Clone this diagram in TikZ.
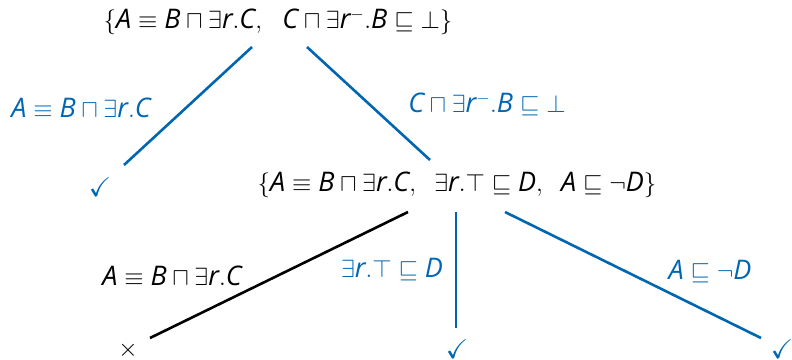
\documentclass[tikz,border=0pt]{standalone}
\usepackage{amssymb}
\usepackage{fontspec}
\setmainfont{Open Sans}
\definecolor{tblue}{RGB}{0,102,178}
\newcommand{\vv}[1]{\textit{#1}}
\begin{document}
\begin{tikzpicture}[x=1pt,y=-1pt,
  lbl/.style={inner sep=0pt,font=\fontsize{27}{31}\selectfont},
  edge/.style={line width=2.6pt},
  blueedge/.style={edge,draw=tblue},
  blackedge/.style={edge,draw=black}]
\useasboundingbox (0,0) rectangle (792,359);
% nodes
\node[lbl] (top) at (278,22) {$\{\vv{A} \equiv \vv{B} \sqcap \exists \vv{r}.\vv{C},\hspace{0.6em} \vv{C} \sqcap \exists \vv{r}^{-}.\vv{B} \sqsubseteq \bot\}$};
\node[lbl] (mid) at (457,185) {$\{\vv{A} \equiv \vv{B} \sqcap \exists \vv{r}.\vv{C},\ \ \exists \vv{r}.\top \sqsubseteq \vv{D},\ \ \vv{A} \sqsubseteq \neg \vv{D}\}$};
\node[lbl,text=tblue] (chk1) at (100,187) {$\checkmark$};
\node[lbl] (cross) at (128,350) {$\times$};
\node[lbl,text=tblue] (chk2) at (457,349) {$\checkmark$};
\node[lbl,text=tblue] (chk3) at (782,349) {$\checkmark$};
% labels
\node[lbl,text=tblue] (l1) at (81,108) {$\vv{A} \equiv \vv{B} \sqcap \exists \vv{r}.\vv{C}$};
\node[lbl,text=tblue] (l2) at (487,104) {$\vv{C} \sqcap \exists \vv{r}^{-}.\vv{B} \sqsubseteq \bot$};
\node[lbl] (l3) at (172,276) {$\vv{A} \equiv \vv{B} \sqcap \exists \vv{r}.\vv{C}$};
\node[lbl,text=tblue] (l4) at (392,270) {$\exists \vv{r}.\top \sqsubseteq \vv{D}$};
\node[lbl,text=tblue] (l5) at (710,272) {$\vv{A} \sqsubseteq \neg \vv{D}$};
% connector end points
\coordinate (a1) at (252,47);  \coordinate (a2) at (124,165);
\coordinate (b1) at (307,47);  \coordinate (b2) at (430,160);
\coordinate (c1) at (408,212); \coordinate (c2) at (150,338);
\coordinate (d1) at (456,212); \coordinate (d2) at (456,328);
\coordinate (e1) at (505,212); \coordinate (e2) at (761,338);
\draw[blueedge] (a1) -- (a2);
\draw[blueedge] (b1) -- (b2);
\draw[blackedge] (c1) -- (c2);
\draw[blueedge] (d1) -- (d2);
\draw[blueedge] (e1) -- (e2);
\end{tikzpicture}
\end{document}
